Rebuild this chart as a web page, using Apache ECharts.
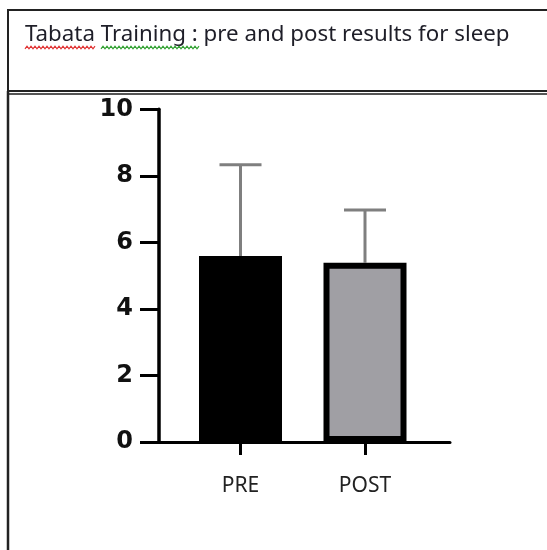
<!DOCTYPE html>
<html>
<head>
<meta charset="utf-8">
<script src="https://cdn.jsdelivr.net/npm/echarts@6/dist/echarts.min.js"></script>
<style>
html,body{margin:0;padding:0;background:#fff;}
#chart{width:547px;height:550px;}
</style>
</head>
<body>
<div id="chart"></div>
<script>
var titleText = 'Tabata Training : pre and post results for sleep';
var categories = ['PRE', 'POST'];
var means = [5.59, 5.39];
var upperErr = [8.33, 6.97];
var barColors = ['#000000', '#a09fa4'];
var yTicks = [0, 2, 4, 6, 8, 10];

var chart = echarts.init(document.getElementById('chart'), null, {renderer: 'canvas'});

function wave(x0, x1, y, color) {
  var pts = [];
  var i = 0;
  for (var x = x0; x <= x1; x += 2, i++) {
    pts.push([x, y + (i % 2 ? -1.3 : 1.3)]);
  }
  return {type: 'polyline', shape: {points: pts}, style: {stroke: color, lineWidth: 1.2, fill: null}, z: 10};
}

var barData = means.map(function (v, i) {
  return {value: v, itemStyle: {color: barColors[i]}};
});
var errData = means.map(function (v, i) { return [i, v, upperErr[i]]; });

var option = {
  animation: false,
  backgroundColor: '#ffffff',
  grid: [
    {left: 159, right: 97, top: 109.3, bottom: 108},
    {left: 178.25, width: 249, top: 109.3, bottom: 108}
  ],
  xAxis: [
    {type: 'value', gridIndex: 0, min: 0, max: 1,
     axisLine: {show: true, onZero: false, lineStyle: {color: '#000', width: 3}},
     axisTick: {show: false}, axisLabel: {show: false}, splitLine: {show: false}},
    {type: 'category', gridIndex: 1, data: categories,
     axisLine: {show: false},
     axisTick: {show: true, alignWithLabel: true, length: 13, lineStyle: {color: '#000', width: 3}},
     axisLabel: {show: true, margin: 34, color: '#222', fontFamily: 'Noto Sans', fontSize: 21},
     splitLine: {show: false}}
  ],
  yAxis: [
    {type: 'value', gridIndex: 0, min: 0, max: 10, interval: 2,
     axisLine: {show: true, lineStyle: {color: '#000', width: 3.5}},
     axisTick: {show: true, length: 19, lineStyle: {color: '#000', width: 3}},
     axisLabel: {show: true, margin: 26, color: '#111', fontFamily: 'DejaVu Sans', fontWeight: 'bold', fontSize: 24},
     splitLine: {show: false}},
    {type: 'value', gridIndex: 1, min: 0, max: 10, show: false}
  ],
  series: [
    {type: 'custom', xAxisIndex: 1, yAxisIndex: 1, z: 1, data: errData,
     renderItem: function (params, api) {
       var x = api.value(0);
       var p0 = api.coord([x, api.value(1)]);
       var p1 = api.coord([x, api.value(2)]);
       var half = 21;
       return {type: 'group', children: [
         {type: 'line', shape: {x1: p0[0], y1: p0[1], x2: p1[0], y2: p1[1]}, style: {stroke: '#7f7f7f', lineWidth: 3}},
         {type: 'line', shape: {x1: p1[0] - half, y1: p1[1], x2: p1[0] + half, y2: p1[1]}, style: {stroke: '#7f7f7f', lineWidth: 3}}
       ]};
     }},
    {type: 'bar', xAxisIndex: 1, yAxisIndex: 1, z: 2, barWidth: 83, data: barData,
     itemStyle: {borderColor: '#000', borderWidth: 6}}
  ],
  graphic: [
    {type: 'rect', shape: {x: 8, y: 10, width: 600, height: 81}, style: {fill: null, stroke: '#222', lineWidth: 2}, z: 5},
    {type: 'line', shape: {x1: 8, y1: 94, x2: 547, y2: 94}, style: {stroke: '#555', lineWidth: 2}, z: 5},
    {type: 'line', shape: {x1: 8, y1: 91, x2: 8, y2: 550}, style: {stroke: '#222', lineWidth: 2.5}, z: 5},
    {type: 'text', x: 25, y: 35, style: {text: titleText, fill: '#1e1e28', font: '22.3px "Noto Sans"', textVerticalAlign: 'middle'}, z: 10},
    wave(25, 95, 47.5, '#e03030'),
    wave(101, 199, 47.5, '#30a030')
  ]
};
chart.setOption(option);
</script>
</body>
</html>
